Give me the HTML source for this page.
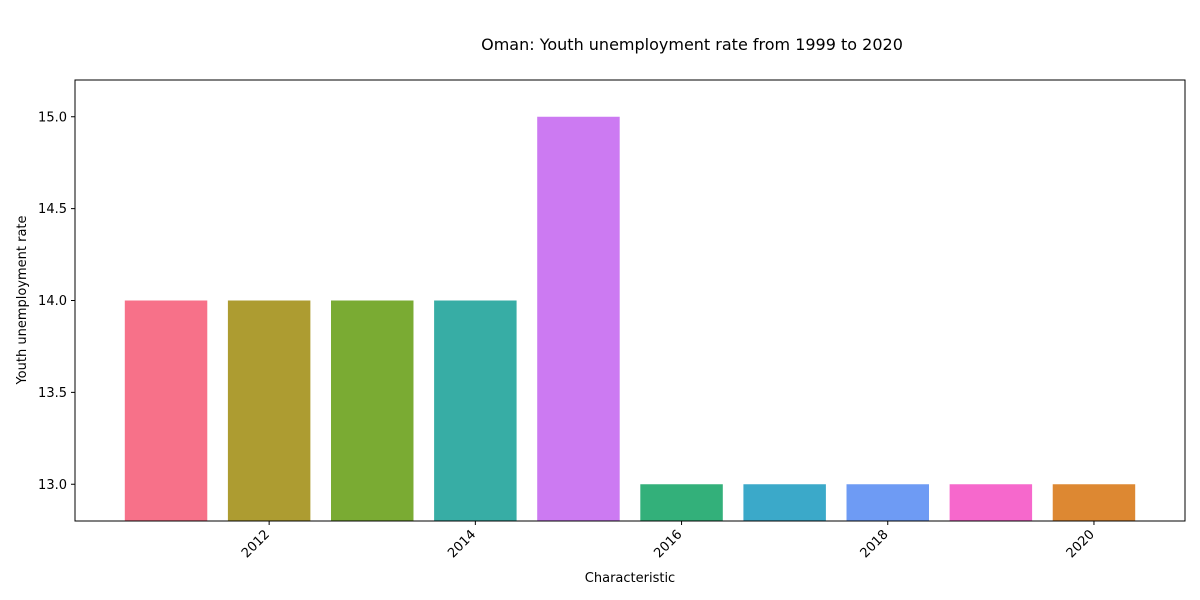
<!DOCTYPE html>
<html><head><meta charset="utf-8"><style>body{margin:0;background:#fff}svg{display:block}text{font-family:"DejaVu Sans","Liberation Sans",sans-serif;fill:#000}</style></head>
<body>
<svg id="chart" width="1200" height="600">
<text x="692" y="50" font-size="16" text-anchor="middle">Oman: Youth unemployment rate from 1999 to 2020</text>
<text transform="translate(26,300) rotate(-90)" font-size="13" text-anchor="middle">Youth unemployment rate</text>
<text x="630" y="582" font-size="13" text-anchor="middle">Characteristic</text>
<g id="bars"></g><g id="axes"></g>
<rect x="75" y="80" width="1110" height="441" fill="none" stroke="#000" stroke-width="1"/>
</svg>
<script>
const years=[2011,2012,2013,2014,2015,2016,2017,2018,2019,2020];
const values=[14,14,14,14,15,13,13,13,13,13];
const colors=["#f77189","#ad9c31","#7aab33","#37ada5","#cc7af2","#33b07a","#3ba9c9","#6e9bf4","#f668cc","#dd8832"];
const yTicks=[13.0,13.5,14.0,14.5,15.0];
const xTicks=[2012,2014,2016,2018,2020];
const X0=75,X1=1185,Y0=521,Y1=80,xmin=2010.117,xmax=2020.883,ymin=12.8,ymax=15.2;
const sx=v=>X0+(v-xmin)/(xmax-xmin)*(X1-X0);
const sy=v=>Y0-(v-ymin)/(ymax-ymin)*(Y0-Y1);
const ns="http://www.w3.org/2000/svg";
const bars=document.getElementById('bars'),axes=document.getElementById('axes');
const bw=sx(0.8)-sx(0);
years.forEach((y,i)=>{const r=document.createElementNS(ns,'rect');
r.setAttribute('x',sx(y)-bw/2);r.setAttribute('width',bw);
r.setAttribute('y',sy(values[i]));r.setAttribute('height',Y0-sy(values[i]));
r.setAttribute('fill',colors[i]);


bars.appendChild(r);});
yTicks.forEach(t=>{const y=sy(t);const l=document.createElementNS(ns,'line');
l.setAttribute('x1',X0-4);l.setAttribute('x2',X0);l.setAttribute('y1',y);l.setAttribute('y2',y);l.setAttribute('stroke','#000');


axes.appendChild(l);
const tx=document.createElementNS(ns,'text');tx.setAttribute('x',X0-8);tx.setAttribute('y',y+4.5);tx.setAttribute('font-size','13');tx.setAttribute('text-anchor','end');tx.textContent=t.toFixed(1);


axes.appendChild(tx);});
xTicks.forEach(t=>{const x=sx(t);const l=document.createElementNS(ns,'line');
l.setAttribute('x1',x);l.setAttribute('x2',x);l.setAttribute('y1',Y0);l.setAttribute('y2',Y0+4);l.setAttribute('stroke','#000');


axes.appendChild(l);
const tx=document.createElementNS(ns,'text');tx.setAttribute('transform','translate('+(x+1)+','+(Y0+14)+') rotate(-45)');tx.setAttribute('font-size','13');tx.setAttribute('text-anchor','end');tx.textContent=t;


axes.appendChild(tx);});
</script>
</body></html>
